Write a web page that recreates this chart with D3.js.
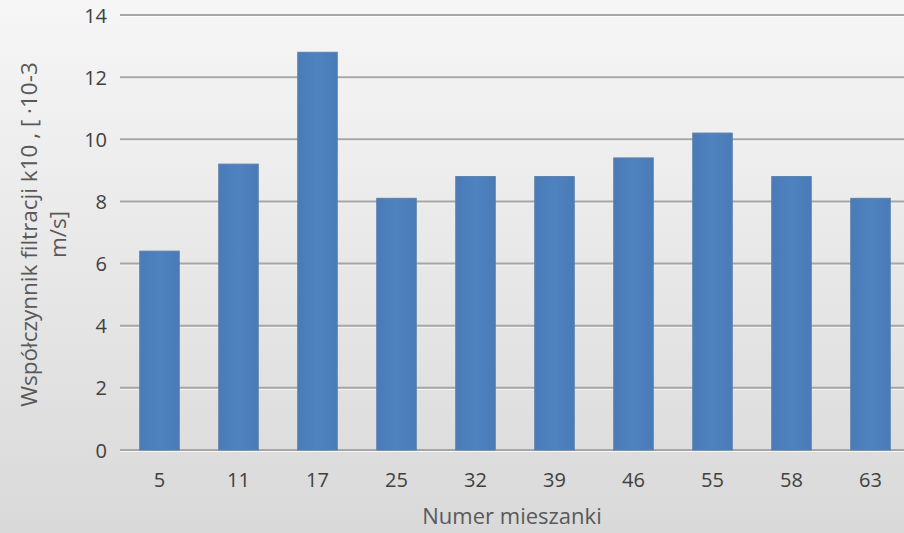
<!DOCTYPE html>
<html>
<head>
<meta charset="utf-8">
<script src="https://cdn.jsdelivr.net/npm/d3@7"></script>
<style>
  html, body { margin: 0; padding: 0; background: #fff; }
  svg { display: block; }
  text { font-family: "Open Sans", "Noto Sans", sans-serif; }
</style>
</head>
<body>
<svg id="chart" width="904" height="533"></svg>
<script>
// Mixture numbers and their filtration coefficients k10 [·10-3 m/s]
const categories = ["5", "11", "17", "25", "32", "39", "46", "55", "58", "63"];
const values = [6.4, 9.2, 12.8, 8.1, 8.8, 8.8, 9.4, 10.2, 8.8, 8.1];
const yTicks = [0, 2, 4, 6, 8, 10, 12, 14];

const W = 904, H = 533;
const margin = { top: 15, left: 120, bottom: 83 };
const plotRight = 910;

const svg = d3.select("#chart");
const defs = svg.append("defs");

const bg = defs.append("linearGradient").attr("id", "bg")
  .attr("x1", 0).attr("y1", 0).attr("x2", 0).attr("y2", 1);
bg.append("stop").attr("offset", "0%").attr("stop-color", "#f6f6f6");
bg.append("stop").attr("offset", "100%").attr("stop-color", "#d9d9d9");

const barGrad = defs.append("linearGradient").attr("id", "barGrad")
  .attr("x1", 0).attr("y1", 0).attr("x2", 1).attr("y2", 0);
barGrad.append("stop").attr("offset", "0%").attr("stop-color", "#4a7bb9");
barGrad.append("stop").attr("offset", "50%").attr("stop-color", "#4f82c0");
barGrad.append("stop").attr("offset", "100%").attr("stop-color", "#4a7bb9");

svg.append("rect").attr("width", W).attr("height", H).attr("fill", "url(#bg)");

const x = d3.scaleBand().domain(categories)
  .range([margin.left, plotRight]).paddingInner(0.5).paddingOuter(0.25);
const y = d3.scaleLinear().domain([0, 14]).range([H - margin.bottom, margin.top]);

// Horizontal gridlines with a soft light edge below
const grid = svg.append("g");
grid.selectAll("line.shadow").data(yTicks).join("line")
  .attr("x1", margin.left).attr("x2", W)
  .attr("y1", d => y(d) + 1.5).attr("y2", d => y(d) + 1.5)
  .attr("stroke", "#ffffff").attr("stroke-opacity", 0.7).attr("stroke-width", 1);
grid.selectAll("line.main").data(yTicks).join("line")
  .attr("x1", margin.left).attr("x2", W)
  .attr("y1", d => y(d)).attr("y2", d => y(d))
  .attr("stroke", "#a6a6a6").attr("stroke-width", 2);

// Bars
svg.append("g").selectAll("rect").data(values).join("rect")
  .attr("x", (d, i) => x(categories[i]))
  .attr("y", d => y(d))
  .attr("width", x.bandwidth())
  .attr("height", d => y(0) - y(d))
  .attr("fill", "url(#barGrad)")
  .attr("stroke", "#5b7fa8").attr("stroke-width", 1);

// Y axis labels
const yAxis = d3.axisLeft(y).tickValues(yTicks).tickSize(0).tickPadding(0).tickFormat(d3.format("d"));
const ya = svg.append("g").attr("transform", `translate(${margin.left - 13},0)`).call(yAxis);
ya.select(".domain").remove();
ya.selectAll("text").attr("font-size", 20).attr("fill", "#404040")
  .attr("font-family", "'Open Sans', sans-serif").attr("dy", "0.35em");

// X axis labels
const xAxis = d3.axisBottom(x).tickSize(0).tickPadding(0);
const xa = svg.append("g").attr("transform", `translate(0,${y(0) + 30})`).call(xAxis);
xa.select(".domain").remove();
xa.selectAll("text").attr("font-size", 20).attr("fill", "#404040")
  .attr("font-family", "'Open Sans', sans-serif").attr("y", 0).attr("dy", "0.35em");

// Axis titles
svg.append("text")
  .attr("x", 512).attr("y", 524)
  .attr("text-anchor", "middle").attr("font-size", 22).attr("fill", "#595959")
  .text("Numer mieszanki");

const yt = svg.append("text")
  .attr("transform", `translate(0,${(y(0) + y(14)) / 2 + 2}) rotate(-90)`)
  .attr("text-anchor", "middle").attr("font-size", 22.5).attr("fill", "#595959");
yt.append("tspan").attr("x", 0).attr("y", 37).text("Współczynnik filtracji k10 , [ ·10-3");
yt.append("tspan").attr("x", 0).attr("y", 66).text("m/s]");
</script>
</body>
</html>
